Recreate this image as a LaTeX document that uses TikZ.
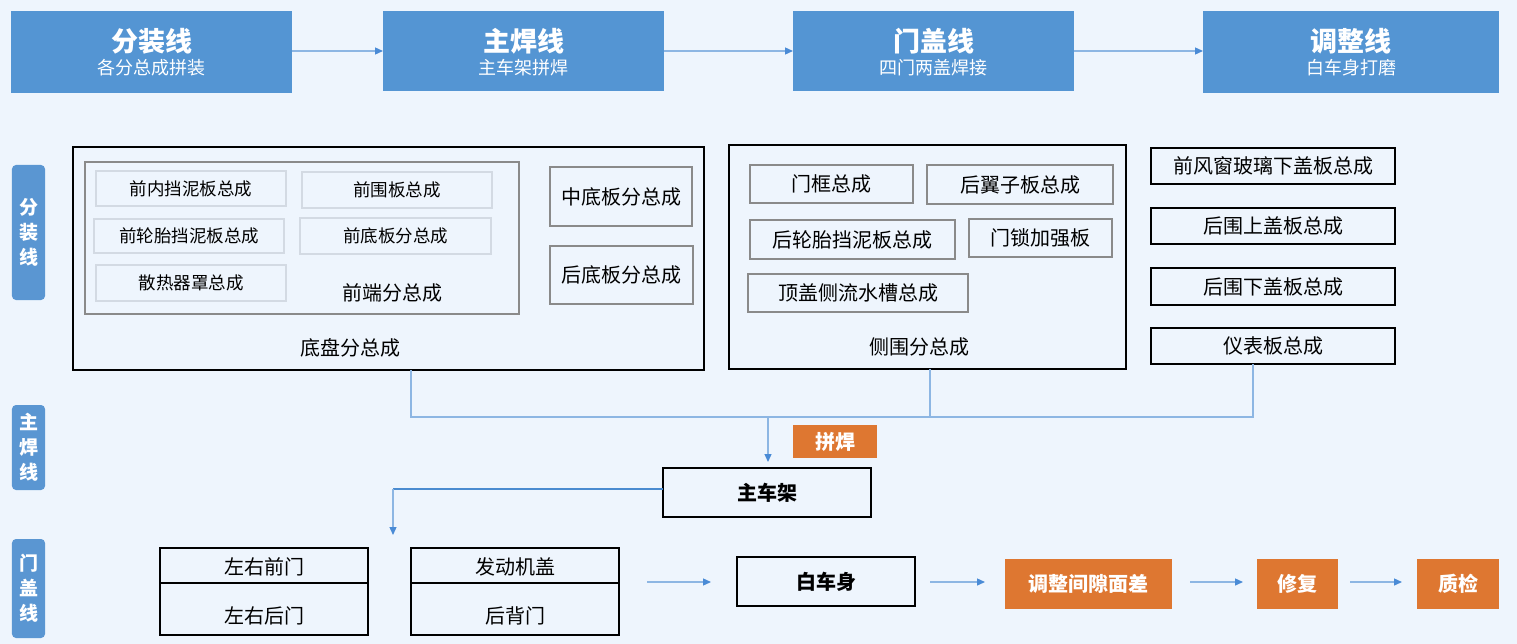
\documentclass[tikz,border=0pt]{standalone}
\usepackage{fontspec}
\setmainfont{Noto Sans CJK SC}
\usetikzlibrary{arrows.meta}
\definecolor{bgc}{HTML}{EEF5FD}
\definecolor{hdrblue}{HTML}{5495D3}
\definecolor{sideblue}{HTML}{5A96D2}
\definecolor{orng}{HTML}{DE7731}
\definecolor{lineblue}{HTML}{8DB6E3}
\definecolor{tipblue}{HTML}{4A8BD6}
\definecolor{darkline}{HTML}{4A8BD0}
\definecolor{faint}{HTML}{D3DAE3}
\definecolor{midgray}{HTML}{8A8A8A}
\newcommand{\fs}[1]{\fontsize{#1bp}{#1bp}\selectfont}
\begin{document}
\begin{tikzpicture}[x=1bp,y=-1bp,
  base/.style={inner sep=0pt, outer sep=0pt},
  hdr/.style={base, fill=hdrblue},
  htitle/.style={base, text=white, font=\fs{27}\bfseries},
  hsub/.style={base, text=white, font=\fs{18}},
  side/.style={base, fill=sideblue, rounded corners=4bp, minimum width=33bp, text=white, align=center, font=\fontsize{19bp}{25bp}\selectfont\bfseries},
  blackbox/.style={base, draw=black, line width=1.6bp},
  graybox/.style={base, draw=midgray, line width=1.3bp, font=\fs{20}},
  faintbox/.style={base, draw=faint, line width=1.2bp, font=\fs{17.5}},
  rbox/.style={base, draw=black, line width=1.8bp, minimum width=244bp, font=\fs{20}},
  lbl/.style={base, font=\fs{20}},
  orbox/.style={base, fill=orng, text=white, font=\fs{20}\bfseries},
  conn/.style={draw=lineblue, line width=1.3bp},
  arr/.style={conn, -{Triangle[length=8bp,width=7bp,color=tipblue]}},
  doorbox/.style={base, draw=black, line width=1.4bp, minimum width=208bp, minimum height=87bp},
  bold/.style={base, draw=black, line width=2.2bp, font=\fs{20}\bfseries}
]
\fill[bgc] (0,0) rectangle (1517,644);
\useasboundingbox (0,0) rectangle (1517,644);

% headers
\node[hdr, minimum width=281bp, minimum height=82bp] (h1) at (151.5,52) {};
\node[hdr, minimum width=281bp, minimum height=80bp] (h2) at (523.5,51) {};
\node[hdr, minimum width=281bp, minimum height=80bp] (h3) at (933.5,51) {};
\node[hdr, minimum width=296bp, minimum height=82bp] (h4) at (1351,52) {};
\node[htitle] (t1) at (151.5,41) {分装线};
\node[hsub] (u1) at (151.5,68) {各分总成拼装};
\node[htitle] (t2) at (523.5,41) {主焊线};
\node[hsub] (u2) at (523.5,68) {主车架拼焊};
\node[htitle] (t3) at (933.5,41) {门盖线};
\node[hsub] (u3) at (933.5,68) {四门两盖焊接};
\node[htitle] (t4) at (1351,41) {调整线};
\node[hsub] (u4) at (1351,68) {白车身打磨};
\draw[arr] (h1.east |- 0,51) -- (h2.west);
\draw[arr] (h2.east) -- (h3.west);
\draw[arr] (h3.east) -- (h4.west |- 0,51);

% side labels
\node[side, minimum height=135bp] (s1) at (28.5,232.5) {分\\装\\线};
\node[side, minimum height=85bp] (s2) at (28.5,447.5) {主\\焊\\线};
\node[side, minimum height=99bp] (s3) at (28.5,588.5) {门\\盖\\线};

% chassis group
\node[blackbox, minimum width=631bp, minimum height=223bp] (chassis) at (388.5,258.5) {};
\node[base, draw=midgray, line width=1.3bp, minimum width=434bp, minimum height=152bp] (front) at (302,238) {};
\node[faintbox, minimum width=190bp, minimum height=35bp] (a1) at (191,188.5) {前内挡泥板总成};
\node[faintbox, minimum width=190bp, minimum height=36bp] (a2) at (397,190) {前围板总成};
\node[faintbox, minimum width=190bp, minimum height=34bp] (a3) at (189,236) {前轮胎挡泥板总成};
\node[faintbox, minimum width=191bp, minimum height=36bp] (a4) at (395.5,236) {前底板分总成};
\node[faintbox, minimum width=190bp, minimum height=36bp] (a5) at (191,283) {散热器罩总成};
\node[lbl] (frontlbl) at (392,293) {前端分总成};
\node[graybox, minimum width=142bp, minimum height=59bp] (mid) at (621,196.5) {中底板分总成};
\node[graybox, minimum width=143bp, minimum height=58bp] (rear) at (621.5,275) {后底板分总成};
\node[lbl] (chassislbl) at (350,348) {底盘分总成};

% side frame group
\node[blackbox, minimum width=397bp, minimum height=224bp] (sideg) at (927.5,257) {};
\node[graybox, minimum width=163bp, minimum height=38bp] (b1) at (831.5,184) {门框总成};
\node[graybox, minimum width=186bp, minimum height=39bp] (b2) at (1020,184.5) {后翼子板总成};
\node[graybox, minimum width=205bp, minimum height=39bp] (b3) at (852.5,239.5) {后轮胎挡泥板总成};
\node[graybox, minimum width=143bp, minimum height=38bp] (b4) at (1040.5,238) {门锁加强板};
\node[graybox, minimum width=220bp, minimum height=38bp] (b5) at (858,293) {顶盖侧流水槽总成};
\node[lbl] (sidelbl) at (919,347) {侧围分总成};

% right column
\node[rbox, minimum height=36bp] (r1) at (1273,166) {前风窗玻璃下盖板总成};
\node[rbox, minimum height=36bp] (r2) at (1273,226) {后围上盖板总成};
\node[rbox, minimum height=37bp] (r3) at (1273,286.5) {后围下盖板总成};
\node[rbox, minimum height=36bp] (r4) at (1273,346) {仪表板总成};

% merge connectors
\coordinate (j1) at (411,417);
\coordinate (j2) at (930,417);
\coordinate (j3) at (1253,417);
\coordinate (jm) at (768,417);
\coordinate (jmend) at (768,462);
\draw[conn] (chassis.south -| j1) -- (j1) -- (j3) -- (r4.south -| j3);
\draw[conn] (sideg.south -| j2) -- (j2);
\draw[arr] (jm) -- (jmend);

\node[orbox, minimum width=84bp, minimum height=33bp] (pj) at (835,441.5) {拼焊};
\node[bold, minimum width=208bp, minimum height=49bp] (frame) at (767,492.5) {主车架};

\coordinate (k1) at (393,489);
\coordinate (k2) at (393,535);
\draw[draw=darkline, line width=2bp] (frame.west |- k1) -- (k1);
\draw[arr] (k1) -- (k2);

% door line
\node[doorbox] (d1) at (264,591.5) {};
\node[doorbox] (d2) at (515,591.5) {};
\draw[black, line width=1.4bp] (d1.west |- 0,583) -- (d1.east |- 0,583);
\draw[black, line width=1.4bp] (d2.west |- 0,583) -- (d2.east |- 0,583);
\node[lbl] (d1a) at (264,567) {左右前门};
\node[lbl] (d1b) at (264,616) {左右后门};
\node[lbl] (d2a) at (515,567) {发动机盖};
\node[lbl] (d2b) at (515,616) {后背门};

\node[bold, minimum width=178bp, minimum height=49bp] (bw) at (826,581.5) {白车身};
\node[orbox, minimum width=167bp, minimum height=50bp] (o1) at (1088.5,584) {调整间隙面差};
\node[orbox, minimum width=81bp, minimum height=50bp] (o2) at (1297.5,584) {修复};
\node[orbox, minimum width=82bp, minimum height=50bp] (o3) at (1458,584) {质检};

\draw[arr, shorten <=28bp, shorten >=26bp] (d2.east |- 0,582) -- (bw.west |- 0,582);
\draw[arr, shorten <=15bp, shorten >=20bp] (bw.east |- 0,582) -- (o1.west |- 0,582);
\draw[arr, shorten <=18bp, shorten >=14bp] (o1.east |- 0,582) -- (o2.west |- 0,582);
\draw[arr, shorten <=12bp, shorten >=15bp] (o2.east |- 0,582) -- (o3.west |- 0,582);
\end{tikzpicture}
\end{document}
